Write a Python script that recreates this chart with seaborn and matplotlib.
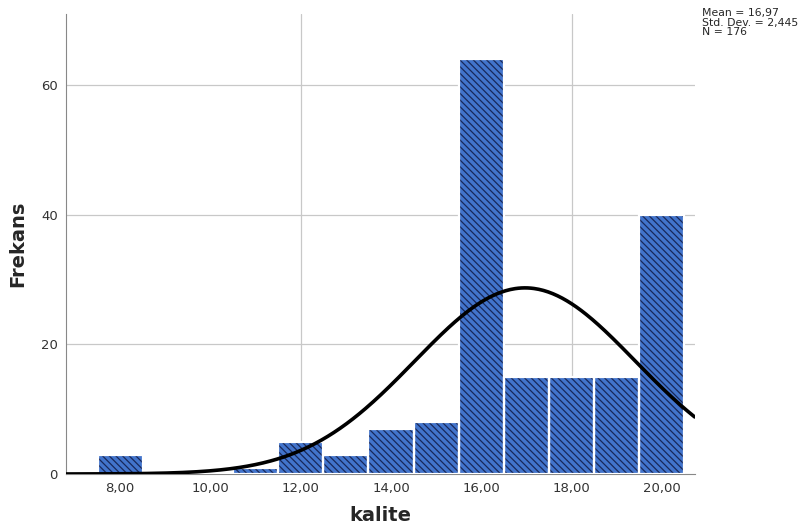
import numpy as np
import pandas as pd
import matplotlib
matplotlib.use("Agg")
import matplotlib.pyplot as plt
import seaborn as sns

# kalite skorlari ve frekanslari
kalite = [8, 9, 10, 11, 12, 13, 14, 15, 16, 17, 18, 19, 20]
frekans = [3, 0, 0, 1, 5, 3, 7, 8, 64, 15, 15, 15, 40]
ortalama = 16.97
std_sapma = 2.445
n = 176

df = pd.DataFrame({"kalite": kalite, "frekans": frekans})

sns.set_style("white")
plt.rcParams["font.family"] = ["DejaVu Sans"]
plt.rcParams["hatch.linewidth"] = 0.9

fig = plt.figure(figsize=(8.05, 5.32), dpi=100)
ax = fig.add_axes([0.082, 0.109, 0.781, 0.865])

# cizgili dolgu
sns.histplot(data=df, x="kalite", weights="frekans", discrete=True,
             color="#4274cc", alpha=1, edgecolor="#18285a", linewidth=0,
             hatch="\\" * 5, ax=ax, zorder=2)
k = len(ax.patches)
# beyaz kenarlar
sns.histplot(data=df, x="kalite", weights="frekans", discrete=True,
             fill=False, ax=ax, zorder=3)
for p in ax.patches[k:]:
    p.set_edgecolor("white")
    p.set_linewidth(1.6)

# normal egri
xs = np.linspace(6.8, 20.73, 400)
ys = n * 1.0 * np.exp(-0.5 * ((xs - ortalama) / std_sapma) ** 2) / (std_sapma * np.sqrt(2 * np.pi))
sns.lineplot(x=xs, y=ys, color="black", linewidth=2.6, ax=ax, zorder=4)

ax.set_xlim(6.8, 20.73)
ax.set_ylim(0, 71)
ax.set_xticks([8, 10, 12, 14, 16, 18, 20])
ax.set_xticklabels([f"{v:.2f}".replace(".", ",") for v in [8, 10, 12, 14, 16, 18, 20]])
ax.set_yticks([0, 20, 40, 60])
ax.tick_params(length=0, labelsize=9.5, labelcolor="#333333", pad=6)

for y in [20, 40, 60]:
    ax.axhline(y, color="#c8c8c8", linewidth=0.9, zorder=1)
for x in [12, 18]:
    ax.axvline(x, color="#c8c8c8", linewidth=0.9, zorder=1)

for s in ["top", "right"]:
    ax.spines[s].set_visible(False)
ax.spines["left"].set_color("#888888")
ax.spines["bottom"].set_color("#888888")

ax.set_xlabel("kalite", fontsize=14, fontweight="bold", labelpad=8)
ax.set_ylabel("Frekans", fontsize=14, fontweight="bold", labelpad=10)

fig.text(0.872, 0.985, "Mean = 16,97\nStd. Dev. = 2,445\nN = 176",
         fontsize=7.8, va="top", ha="left", linespacing=0.95)

fig.savefig("out.png", dpi=100)
